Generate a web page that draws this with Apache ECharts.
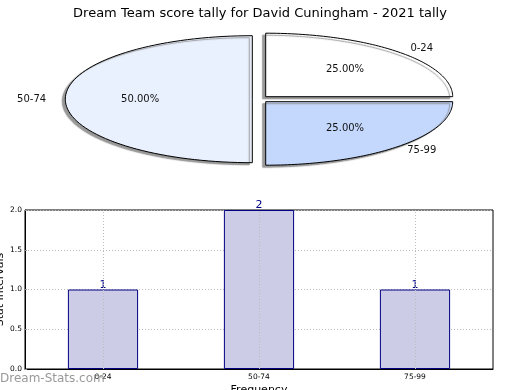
<!DOCTYPE html>
<html>
<head>
<meta charset="utf-8">
<script src="https://cdn.jsdelivr.net/npm/echarts@6/dist/echarts.min.js"></script>
<style>
html,body{margin:0;padding:0;background:#fff;}
#chart{width:520px;height:390px;}
</style>
</head>
<body>
<div id="chart"></div>
<script>
// ---- data ----
var titleText = 'Dream Team score tally for David Cuningham - 2021 tally';
var pieCategories = ['0-24', '50-74', '75-99'];
var pieValues = [1, 2, 1];
var pieColors = ['#ffffff', '#eaf1fe', '#c4d8fd'];
var barCategories = ['0-24', '50-74', '75-99'];
var barValues = [1, 2, 1];
var yTicks = [0, 0.5, 1.0, 1.5, 2.0];

// ---- pie geometry (style) ----
var PIE = { cx: 259, cy: 99.2, rx: 187, ry: 63.5, ex: 6.7, ey: 2.5 };
var total = pieValues.reduce(function (a, b) { return a + b; }, 0);
var starts = [], acc = 0;
pieValues.forEach(function (v) { starts.push(acc); acc += v; });

function renderSlice(params, api) {
  var i = params.dataIndex;
  var v = api.value(0);
  var a0 = starts[i] / total * Math.PI * 2;
  var a1 = (starts[i] + v) / total * Math.PI * 2;
  var mid = (a0 + a1) / 2;
  var c = Math.cos(mid), s = Math.sin(mid);
  var m = Math.max(Math.abs(c), Math.abs(s));
  var cx = PIE.cx + PIE.ex * c / m;
  var cy = PIE.cy - PIE.ey * s / m;
  var pts = [[cx, cy]];
  var n = 80;
  for (var k = 0; k <= n; k++) {
    var a = a0 + (a1 - a0) * k / n;
    pts.push([cx + PIE.rx * Math.cos(a), cy - PIE.ry * Math.sin(a)]);
  }
  var pct = (v / total * 100).toFixed(2) + '%';
  return {
    type: 'group',
    children: [
      {
        type: 'polygon',
        shape: { points: pts },
        style: {
          fill: pieColors[i], stroke: '#000', lineWidth: 1,
          shadowBlur: 1, shadowOffsetX: -3, shadowOffsetY: 2, shadowColor: 'rgba(140,140,140,0.9)'
        }
      },
      {
        type: 'text',
        style: {
          text: pct, x: cx + PIE.rx * 0.6 * c, y: cy - PIE.ry * 0.6 * s,
          align: 'center', verticalAlign: 'middle',
          font: '10px "DejaVu Sans"', fill: '#111'
        }
      },
      {
        type: 'text',
        style: {
          text: pieCategories[i], x: cx + PIE.rx * 1.18 * c, y: cy - PIE.ry * 1.08 * s,
          align: 'center', verticalAlign: 'middle',
          font: '10px "DejaVu Sans"', fill: '#111'
        }
      }
    ]
  };
}

var chart = echarts.init(document.getElementById('chart'), null, { renderer: 'canvas' });
chart.setOption({
  animation: false,
  backgroundColor: '#fff',
  textStyle: { fontFamily: 'DejaVu Sans' },
  title: {
    text: titleText, left: 'center', top: 2,
    textStyle: { fontSize: 13, fontWeight: 'normal', color: '#000', fontFamily: 'DejaVu Sans' }
  },
  graphic: [{
    type: 'text', left: 0, top: 373, z: 100,
    style: { text: 'Dream-Stats.com', font: '12px "DejaVu Sans"', fill: '#999' }
  }],
  grid: {
    left: 25, top: 210, width: 468, height: 159,
    containLabel: false, outerBoundsMode: 'none',
    show: true, borderColor: '#000', borderWidth: 1, backgroundColor: '#fff'
  },
  xAxis: {
    type: 'category', data: barCategories,
    name: 'Frequency', nameLocation: 'middle', nameGap: 16, nameMoveOverlap: false,
    nameTextStyle: { fontSize: 11, color: '#000' },
    axisLine: { show: true, lineStyle: { color: '#000' } },
    axisTick: { show: false },
    axisLabel: { fontSize: 7.5, color: '#000', margin: 4 },
    splitLine: { show: false }
  },
  yAxis: {
    type: 'value', min: yTicks[0], max: yTicks[yTicks.length - 1], interval: yTicks[1] - yTicks[0],
    name: 'Stat Intervals', nameLocation: 'middle', nameGap: 19, nameRotate: 90, nameMoveOverlap: false,
    nameTextStyle: { fontSize: 11, color: '#000' },
    axisLine: { show: true, lineStyle: { color: '#000' } },
    axisTick: { show: true, inside: true, length: 2, lineStyle: { color: '#999' } },
    axisLabel: { fontSize: 7.5, color: '#000', margin: 3, formatter: function (v) { return v.toFixed(1); } },
    splitLine: { show: true, lineStyle: { color: '#bbb', type: [1, 2], width: 1 } }
  },
  series: [
    {
      type: 'custom', coordinateSystem: 'none',
      data: pieValues.map(function (v) { return [v]; }),
      renderItem: renderSlice, silent: true
    },
    {
      type: 'bar', data: barValues, barWidth: '45%',
      itemStyle: { color: '#ccccE6', borderColor: '#000080', borderWidth: 1 },
      label: { show: true, position: 'top', distance: -1, color: '#000080', fontSize: 11 },
      markLine: {
        silent: true, symbol: 'none', label: { show: false },
        lineStyle: { color: '#bbb', type: [1, 2], width: 1 },
        data: barCategories.map(function (c) { return { xAxis: c }; }),
        z: 3
      }
    }
  ]
});
</script>
</body>
</html>
